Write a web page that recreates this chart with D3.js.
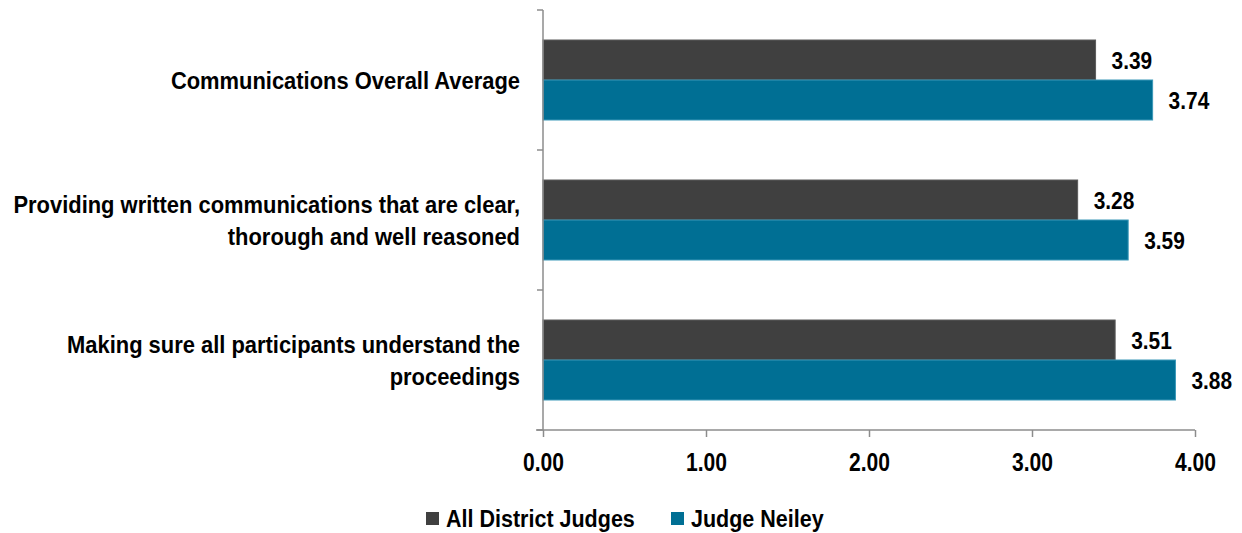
<!DOCTYPE html>
<html>
<head>
<meta charset="utf-8">
<script src="https://cdn.jsdelivr.net/npm/d3@7"></script>
<style>
  body { margin: 0; background: #fff; }
  text { font-family: "Liberation Sans Narrow", "Arial Narrow", "Liberation Sans", Arial, sans-serif; font-weight: bold; fill: #000; }
</style>
</head>
<body>
<svg id="viz"></svg>
<script>
let width = 1242;
let height = 533;

let categories = [
    ["Communications Overall Average"],
    ["Providing written communications that are clear,", "thorough and well reasoned"],
    ["Making sure all participants understand the", "proceedings"]
];
let seriesNames = ["All District Judges", "Judge Neiley"];
let allJudges = [3.39, 3.28, 3.51];
let neiley = [3.74, 3.59, 3.88];
let xTicks = [0, 1, 2, 3, 4];

let colors = ["#404040", "#006f94"];
let strokes = ["#5a5a5a", "#3a98b8"];

let margin = {left: 543, right: 47, top: 10, bottom: 103};

// no narrow font installed: squeeze the regular one horizontally
function condense(sel, f) {
    sel.each(function() {
        let w = this.getComputedTextLength();
        d3.select(this).attr("textLength", w * f).attr("lengthAdjust", "spacingAndGlyphs");
    });
}

let svg = d3.select("#viz")
    .attr("width", width)
    .attr("height", height);

let x = d3.scaleLinear()
    .domain([0, 4])
    .range([margin.left, width - margin.right]);

let y = d3.scaleBand()
    .domain(d3.range(categories.length))
    .range([margin.top, height - margin.bottom])
    .paddingInner(0.4286)
    .paddingOuter(0.2143);

let ySub = d3.scaleBand()
    .domain([0, 1])
    .range([0, y.bandwidth()]);

let data = categories.map((c, i) => ({label: c, values: [allJudges[i], neiley[i]]}));

let groups = svg.selectAll("g.cat")
    .data(data)
    .enter().append("g")
    .attr("class", "cat")
    .attr("transform", (d, i) => "translate(0," + y(i) + ")");

groups.selectAll("rect")
    .data(d => d.values)
    .enter().append("rect")
    .attr("x", x(0))
    .attr("y", (d, j) => ySub(j))
    .attr("width", d => x(d) - x(0))
    .attr("height", ySub.bandwidth())
    .style("fill", (d, j) => colors[j])
    .style("stroke", (d, j) => strokes[j])
    .style("stroke-width", 1);

let vals = groups.selectAll("text.val")
    .data(d => d.values)
    .enter().append("text")
    .attr("class", "val")
    .attr("x", d => x(d) + 16)
    .attr("y", (d, j) => ySub(j) + ySub.bandwidth() / 2)
    .attr("dy", "0.36em")
    .style("font-size", "24px")
    .text(d => d.toFixed(2));
condense(vals, 0.87);

// category labels, one text per line
let step = y.step();
let lineGap = 32;
let catLines = [];
data.forEach((d, i) => {
    d.label.forEach((l, k) => {
        catLines.push({text: l, i: i, k: k, n: d.label.length});
    });
});
let cats = svg.selectAll("text.catlabel")
    .data(catLines)
    .enter().append("text")
    .attr("class", "catlabel")
    .attr("text-anchor", "end")
    .attr("x", margin.left - 23)
    .attr("y", d => y(d.i) + y.bandwidth() / 2 + (d.k - (d.n - 1) / 2) * lineGap)
    .attr("dy", "0.36em")
    .style("font-size", "24px")
    .text(d => d.text);
condense(cats, 0.913);

// y axis with category boundary ticks
let yTop = margin.top;
let yBot = height - margin.bottom;
svg.append("line")
    .attr("x1", x(0)).attr("x2", x(0))
    .attr("y1", yTop).attr("y2", yBot)
    .style("stroke", "#8c8c8c").style("stroke-width", 1.5);
svg.selectAll("line.ytick")
    .data(d3.range(categories.length + 1))
    .enter().append("line")
    .attr("class", "ytick")
    .attr("x1", x(0) - 6).attr("x2", x(0))
    .attr("y1", i => yTop + i * step).attr("y2", i => yTop + i * step)
    .style("stroke", "#8c8c8c").style("stroke-width", 1.5);

// x axis
let xAxis = svg.append("g")
    .attr("transform", "translate(0," + yBot + ")")
    .call(d3.axisBottom(x).tickValues(xTicks).tickFormat(d3.format(".2f")).tickSizeOuter(0).tickSize(7).tickPadding(16));
xAxis.select(".domain").attr("d", "M" + (x(0) - 7) + ",0H" + x(4))
    .style("stroke", "#8c8c8c").style("stroke-width", 1.5);
xAxis.selectAll(".tick line").style("stroke", "#8c8c8c").style("stroke-width", 1.5);
let tickText = xAxis.selectAll(".tick text")
    .style("font-family", "'Liberation Sans Narrow', 'Arial Narrow', 'Liberation Sans', Arial, sans-serif")
    .style("font-weight", "bold")
    .style("font-size", "26px")
    .style("fill", "#000");
condense(tickText, 0.81);

// legend
let legendX = [426, 671];
let legend = svg.selectAll("g.legend")
    .data(seriesNames)
    .enter().append("g")
    .attr("class", "legend")
    .attr("transform", (d, i) => "translate(" + legendX[i] + ",512)");
legend.append("rect")
    .attr("width", 13).attr("height", 13)
    .style("fill", (d, i) => colors[i]);
let legText = legend.append("text")
    .attr("x", 20)
    .attr("y", 7)
    .attr("dy", "0.36em")
    .style("font-size", "23px")
    .text(d => d);
condense(legText, 0.935);
</script>
</body>
</html>
